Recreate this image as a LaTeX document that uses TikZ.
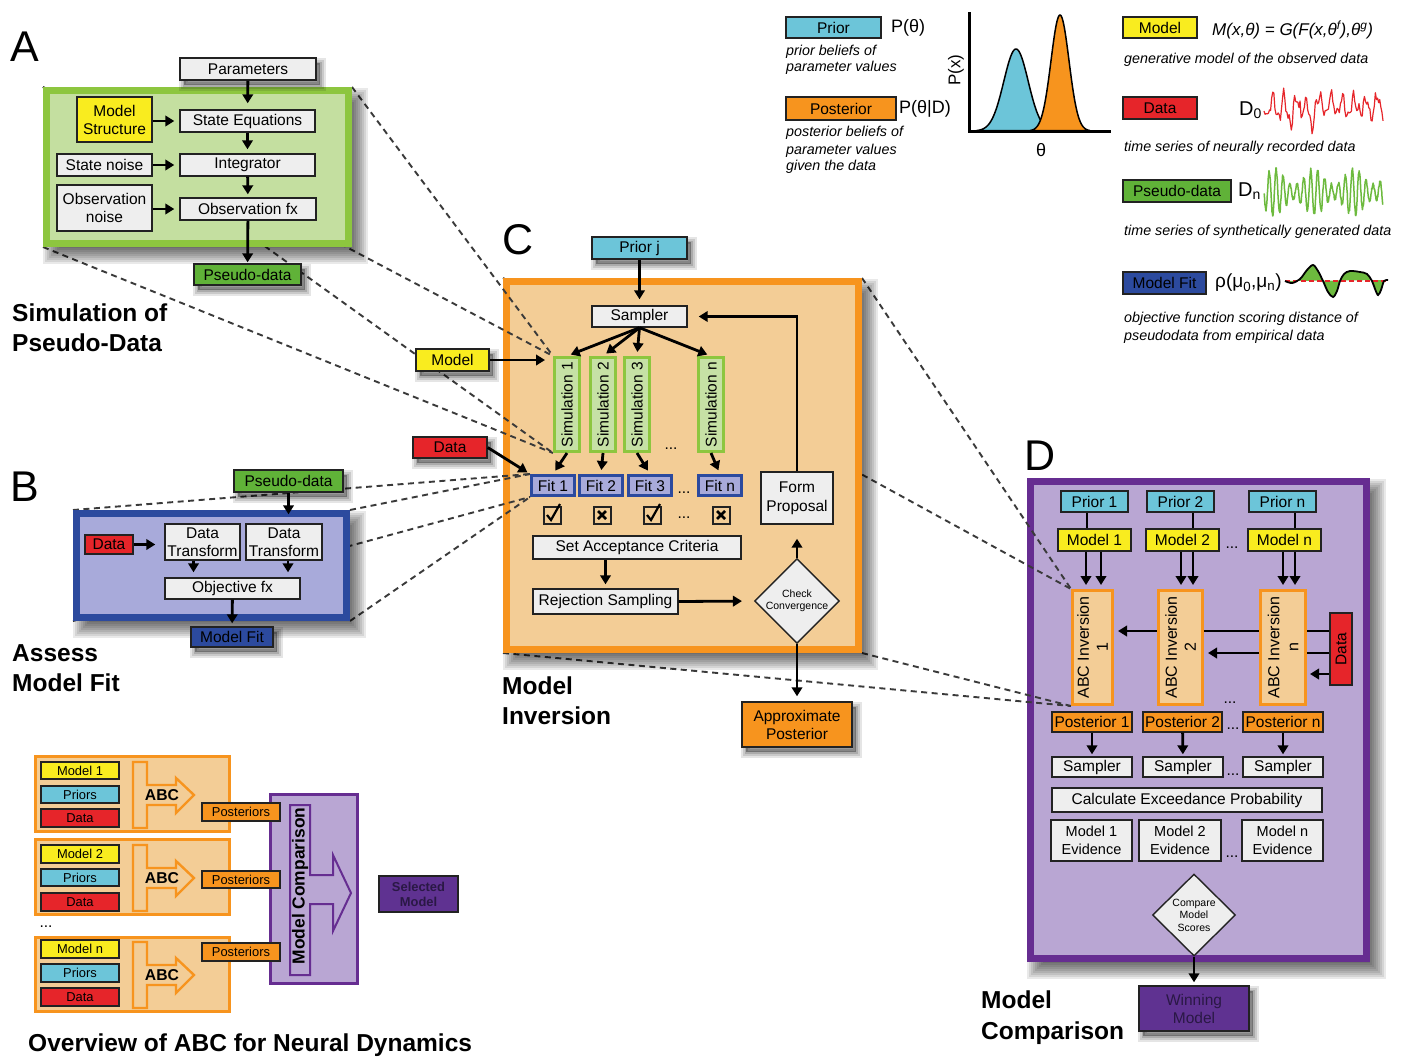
\documentclass[tikz,border=0pt]{standalone}
\usepackage{fontspec}
\setmainfont{Liberation Sans}
\usetikzlibrary{arrows.meta,shapes.geometric}

% palette
\definecolor{cPrior}{HTML}{6CC5D9}
\definecolor{cOrange}{HTML}{F7941E}
\definecolor{cPeach}{HTML}{F3CD96}
\definecolor{cYellow}{HTML}{F9EC1F}
\definecolor{cRed}{HTML}{E6252A}
\definecolor{cPseudo}{HTML}{60B238}
\definecolor{cGreenFill}{HTML}{C4DFA0}
\definecolor{cGreenLine}{HTML}{8DC63F}
\definecolor{cSimFill}{HTML}{C6E1A5}
\definecolor{cNavy}{HTML}{2C4A9E}
\definecolor{cLavender}{HTML}{A8AADA}
\definecolor{cPurple}{HTML}{662D91}
\definecolor{cPurpleBox}{HTML}{5F3291}
\definecolor{cLilac}{HTML}{B9A6D3}
\definecolor{cGrayBox}{HTML}{EEEEEE}
\definecolor{cEdge}{HTML}{222222}
\definecolor{cDash}{HTML}{3A3A3A}
\definecolor{cWave}{HTML}{6DBA3E}
\definecolor{cDarkText}{HTML}{2A1845}

\newcommand\fsz[2]{\fontsize{#1}{#2}\selectfont}
% soft drop shadow under a large panel, given its outer corners
\newcommand\panelshadow[4]{%
  \foreach \e in {-8,-6,...,8}{%
    \fill[black,opacity=0.085] ({#1+8-\e},{#2+9-\e}) rectangle ({#3+8+\e},{#4+9+\e});
  }}

\pgfdeclarelayer{paper}
\pgfdeclarelayer{panelD}
\pgfdeclarelayer{linksD}
\pgfdeclarelayer{panelC}
\pgfdeclarelayer{linksC}
\pgfdeclarelayer{panelAB}
\pgfsetlayers{paper,panelD,linksD,panelC,linksC,panelAB,main}

\tikzset{
  rect/.style n args={4}{at={({(#1+#3)/2},{(#2+#4)/2})},minimum width={#3-#1},minimum height={#4-#2}},
  vrect/.style n args={4}{at={({(#1+#3)/2},{(#2+#4)/2})},rotate=90,minimum width={#4-#2},minimum height={#3-#1}},
  box/.style={draw=cEdge,line width=1.4pt,inner sep=0pt,align=center,font=\fsz{15.5}{18}},
  graybox/.style={box,fill=cGrayBox},
  priorbox/.style={box,fill=cPrior},
  modelbox/.style={box,fill=cYellow},
  databox/.style={box,fill=cRed},
  pseudobox/.style={box,fill=cPseudo},
  fitbox/.style={box,fill=cNavy},
  postbox/.style={box,fill=cOrange},
  winbox/.style={box,fill=cPurpleBox,text=cDarkText},
  simbox/.style={draw=cGreenLine,line width=3pt,fill=cSimFill,inner sep=0pt,font=\fsz{15.5}{18}},
  fitcell/.style={draw=cNavy,line width=3pt,fill=cLavender,inner sep=0pt,font=\fsz{15.5}{18}},
  abcbox/.style={draw=cOrange,line width=3pt,fill=cPeach,inner sep=0pt,align=center,font=\fsz{16}{19}},
  tickbox/.style={draw=cEdge,line width=2pt,minimum size=17pt,inner sep=0pt},
  decision/.style={diamond,aspect=1,draw=cEdge,line width=1.4pt,fill=cGrayBox,inner sep=0pt,align=center,font=\fsz{10.5}{12.5}},
  panel/.style={line width=7pt,inner sep=0pt},
  ovpanel/.style={draw=cOrange,fill=cPeach,line width=3pt,inner sep=0pt},
  ovbox/.style={box,line width=1.2pt,font=\fsz{12.9}{15}},
  % three stacked rings give a soft shadow below and right of a box
  smallshadow/.style={
    preaction={draw=black,fill=black,opacity=0.10,line width=11pt,transform canvas={shift={(4pt,-5pt)}}},
    preaction={draw=black,fill=black,opacity=0.12,line width=7pt,transform canvas={shift={(4pt,-5pt)}}},
    preaction={draw=black,fill=black,opacity=0.15,line width=3pt,transform canvas={shift={(4pt,-5pt)}}}},
  arr/.style={draw=black,line width=2.8pt,-{Triangle[length=9pt,width=10.5pt]}},
  flow/.style={draw=black,line width=2.8pt},
  link/.style={draw=cDash,line width=1.9pt,dash pattern=on 6pt off 4.5pt},
  heading/.style={anchor=west,inner sep=0pt,align=left,font=\fsz{24.5}{30}\bfseries},
  letter/.style={inner sep=0pt,font=\fsz{43}{43}},
  note/.style={anchor=west,inner sep=0pt,font=\fsz{14.3}{17}\itshape},
  ellip/.style={inner sep=0pt,font=\fsz{15.5}{18}},
  sym/.style={anchor=west,inner sep=0pt},
}

\begin{document}
\begin{tikzpicture}[x=1pt,y=-1pt]
\useasboundingbox (0,0) rectangle (1404,1058);
\begin{pgfonlayer}{paper}
  \fill[white] (0,0) rectangle (1404,1058);
\end{pgfonlayer}

% ================= legend =================
\node[priorbox,rect={786}{17}{881}{38}] (lgPrior) {Prior};
\node[sym,font=\fsz{18}{20}] (lgPtheta) at (891,28) {P(θ)};
\node[note] (lgN1) at (786,52) {prior beliefs of};
\node[note] (lgN2) at (786,68) {parameter values};
\node[postbox,rect={786}{97}{896}{120}] (lgPost) {Posterior};
\node[sym,font=\fsz{18}{20}] (lgPthetaD) at (899,109) {P(θ|D)};
\node[note] (lgN3) at (786,133) {posterior beliefs of};
\node[note] (lgN4) at (786,151) {parameter values};
\node[note] (lgN5) at (786,167) {given the data};

% prior and posterior densities
\filldraw[fill=cPrior,draw=black,line width=1.5pt] plot[domain=976:1058,samples=90] (\x,{131-82*exp(-((\x-1016)^2)/297.7)}) -- cycle;
\filldraw[fill=cOrange,draw=black,line width=1.5pt] plot[domain=1030:1090,samples=90] (\x,{131-116*exp(-((\x-1060)^2)/162)}) -- cycle;
\draw[line width=3pt] (969,12) -- (969,131) -- (1111,131);
\node[rotate=90,inner sep=0pt,font=\fsz{17}{17}] (lgPx) at (956,70) {P(x)};
\node[inner sep=0pt,font=\fsz{18}{18}] (lgTheta) at (1041,150) {θ};

\node[modelbox,rect={1123}{17}{1197}{38}] (lgModel) {Model};
\node[sym,font=\fsz{17}{18}\itshape] (lgEq) at (1212,30) {M(x,θ) = G(F(x,θ\textsuperscript{f}),θ\textsuperscript{g})};
\node[note] (lgN6) at (1124,60) {generative model of the observed data};

\node[databox,rect={1123}{97}{1197}{119}] (lgData) {Data};
\node[sym,font=\fsz{20}{20}] (lgD0) at (1239,110) {D\textsubscript{0}};
\pgfmathsetseed{7}
\draw[cRed,line width=1.2pt,line join=round] plot[domain=1264:1383,samples=110] (\x,{106+9*sin(31*(\x-1264))+6*sin(67*(\x-1264)+40)+5*rand+22*exp(-((\x-1311)^2)/5)+12*exp(-((\x-1290)^2)/8)});
\node[note] (lgN7) at (1124,148) {time series of neurally recorded data};

\node[pseudobox,rect={1123}{180}{1231}{202}] (lgPseudo) {Pseudo-data};
\node[sym,font=\fsz{20}{20}] (lgDn) at (1238,191) {D\textsubscript{n}};
\draw[cWave,line width=1.5pt,line join=round] plot[domain=1264:1383,samples=360] (\x,{192+(15+8*sin(9*(\x-1264)))*sin(52*(\x-1264))+2*rand});
\node[note] (lgN8) at (1124,232) {time series of synthetically generated data};

\node[fitbox,rect={1123}{272}{1206}{294}] (lgFit) {Model Fit};
\node[sym,font=\fsz{19}{19}] (lgRho) at (1215,283) {ρ(μ\textsubscript{0},μ\textsubscript{n})};
\fill[cWave] plot[smooth,tension=0.55] coordinates {(1285,281) (1292,283) (1300,279) (1307,270) (1313,265) (1318,271) (1323,281) (1328,292) (1333,297) (1337,291) (1340,281) (1344,274) (1350,271) (1360,272) (1367,274) (1372,281) (1375,289) (1378,295) (1381,290) (1384,281) (1388,280)} -- cycle;
\draw[cRed,line width=1.6pt,dash pattern=on 5pt off 3pt] (1285,281) -- (1388,281);
\draw[black,line width=1.8pt] plot[smooth,tension=0.55] coordinates {(1285,281) (1292,283) (1300,279) (1307,270) (1313,265) (1318,271) (1323,281) (1328,292) (1333,297) (1337,291) (1340,281) (1344,274) (1350,271) (1360,272) (1367,274) (1372,281) (1375,289) (1378,295) (1381,290) (1384,281) (1388,280)};
\node[note] (lgN9) at (1124,319) {objective function scoring distance of};
\node[note] (lgN10) at (1124,337) {pseudodata from empirical data};

% ================= panel backgrounds =================
\begin{pgfonlayer}{panelAB}
  \panelshadow{43}{87}{352}{247}
  \panelshadow{73}{510}{350}{621}
  \node[panel,draw=cGreenLine,fill=cGreenFill,rect={46.5}{90.5}{348.5}{243.5}] (panA) {};
  \node[panel,draw=cNavy,fill=cLavender,rect={76.5}{513.5}{346.5}{617.5}] (panB) {};
\end{pgfonlayer}
\begin{pgfonlayer}{panelC}
  \panelshadow{503}{278}{862}{653}
  \node[panel,draw=cOrange,fill=cPeach,rect={506.5}{281.5}{858.5}{649.5}] (panC) {};
\end{pgfonlayer}
\begin{pgfonlayer}{panelD}
  \panelshadow{1027}{478}{1370}{962}
  \node[panel,draw=cPurple,fill=cLilac,rect={1030.5}{481.5}{1366.5}{958.5}] (panD) {};
\end{pgfonlayer}

% ================= A: simulation of pseudo-data =================
\node[letter] (labA) at (25,47) {A};
\node[graybox,smallshadow,rect={180}{58}{316}{80}] (params) {Parameters};
\node[modelbox,rect={77}{97}{152}{142}] (ms) {Model\\Structure};
\node[graybox,rect={180}{110}{315}{132}] (se) {State Equations};
\node[graybox,rect={57}{154}{152}{176}] (sn) {State noise};
\node[graybox,rect={180}{154}{315}{176}] (integ) {Integrator};
\node[graybox,rect={57}{185}{152}{231}] (on) {Observation\\noise};
\node[graybox,rect={180}{198}{316}{220}] (ofx) {Observation fx};
\node[pseudobox,smallshadow,rect={194}{264}{301}{285}] (pdA) {Pseudo-data};
\draw[arr,shorten >=6pt] (params) -- (se);
\draw[arr,shorten >=4pt] (se) -- (integ);
\draw[arr,shorten >=3pt] (integ) -- (ofx);
\draw[arr,shorten >=1pt] (ofx) -- (pdA);
\draw[arr,shorten >=5pt] (ms.east |- se.west) -- (se.west);
\draw[arr,shorten >=5pt] (sn) -- (integ);
\draw[arr,shorten >=5pt] (on.east |- ofx.west) -- (ofx.west);
\node[heading] (hA) at (12,328) {Simulation of\\Pseudo-Data};

% ================= B: assess model fit =================
\node[letter] (labB) at (25,487) {B};
\node[pseudobox,smallshadow,rect={234}{470}{343}{492}] (pdB) {Pseudo-data};
\node[databox,rect={85}{535}{133}{554}] (dataB) {Data};
\node[graybox,rect={165}{524}{240}{560}] (dt1) {Data\\Transform};
\node[graybox,rect={246}{524}{322}{560}] (dt2) {Data\\Transform};
\node[graybox,rect={165}{578}{300}{599}] (objfx) {Objective fx};
\node[fitbox,smallshadow,rect={191}{627}{273}{647}] (mfB) {Model Fit};
\draw[arr,shorten >=9pt] (pdB.south) -- (pdB.south |- dt2.north);
\draw[arr,shorten >=9pt] (dataB.east) -- (dataB.east -| dt1.west);
\coordinate (dtL) at ([xshift=-9pt]dt1.south);
\coordinate (dtR) at ([xshift=4pt]dt2.south);
\draw[arr,shorten >=5pt] (dtL) -- (dtL |- objfx.north);
\draw[arr,shorten >=5pt] (dtR) -- (dtR |- objfx.north);
\draw[arr,shorten >=3pt] (objfx) -- (mfB);
\node[heading] (hB) at (12,668) {Assess\\Model Fit};

% ================= C: model inversion =================
\node[letter] (labC) at (518,240) {C};
\node[priorbox,smallshadow,rect={592}{237}{687}{259}] (priorj) {Prior j};
\node[graybox,rect={592}{306}{687}{327}] (sampler) {Sampler};
\node[simbox,vrect={554.5}{357.5}{579.5}{451.5}] (sim1) {Simulation 1};
\node[simbox,vrect={590.5}{357.5}{615.5}{451.5}] (sim2) {Simulation 2};
\node[simbox,vrect={624.5}{357.5}{649.5}{451.5}] (sim3) {Simulation 3};
\node[simbox,vrect={698.5}{357.5}{723.5}{451.5}] (simn) {Simulation n};
\node[ellip] (dotsSim) at (671,449) {...};
\node[fitcell,rect={531.5}{475.5}{574.5}{495.5}] (fit1) {Fit 1};
\node[fitcell,rect={579.5}{475.5}{622.5}{495.5}] (fit2) {Fit 2};
\node[fitcell,rect={628.5}{475.5}{671.5}{495.5}] (fit3) {Fit 3};
\node[fitcell,rect={698.5}{475.5}{741.5}{495.5}] (fitn) {Fit n};
\node[ellip] (dotsFit) at (684,493) {...};
\node[tickbox] (ck1) at (552,515) {};
\node[tickbox] (ck2) at (602,515) {};
\node[tickbox] (ck3) at (652,515) {};
\node[tickbox] (ckn) at (721,515) {};
\node[ellip] (dotsCk) at (684,518) {...};
\foreach \c in {ck1,ck3}
  \draw[line width=2.2pt] ([shift={(-5,0)}]\c.center) -- ([shift={(-1,5)}]\c.center) -- ([shift={(8,-11)}]\c.center);
\foreach \c in {ck2,ckn}{
  \draw[line width=2.6pt] ([shift={(-4,-4)}]\c.center) -- ([shift={(4,4)}]\c.center);
  \draw[line width=2.6pt] ([shift={(-4,4)}]\c.center) -- ([shift={(4,-4)}]\c.center);
}
\node[graybox,rect={533}{536}{741}{559}] (sac) {Set Acceptance Criteria};
\node[graybox,rect={533}{589}{678}{614}] (rs) {Rejection Sampling};
\node[decision,minimum width=83pt,minimum height=81pt] (cc) at (797,601) {Check\\Convergence};
\node[graybox,font=\fsz{15.5}{19},rect={761}{472}{833}{524}] (fp) {Form\\Proposal};
\node[postbox,smallshadow,rect={742}{702}{852}{747}] (ap) {Approximate\\Posterior};
\node[modelbox,smallshadow,rect={416}{349}{489}{371}] (modelC) {Model};
\node[databox,smallshadow,rect={413}{437}{487}{458}] (dataC) {Data};
\draw[arr,shorten >=6pt] (priorj) -- (sampler);
\foreach \s in {sim1,sim2,sim3,simn}
  \draw[arr,shorten >=4pt] (sampler.south) -- (\s.east);
\foreach \s/\f in {sim1/fit1,sim2/fit2,sim3/fit3,simn/fitn}
  \draw[arr,shorten >=4pt] (\s.west) -- (\f.north);
\draw[arr,shorten >=4pt] (sac.south -| rs.north) -- (rs.north);
\draw[arr,shorten >=12pt] (rs.east) -- (cc.west);
\draw[arr,shorten >=14pt] (cc.north) -- (fp.south);
\draw[arr,shorten >=11pt] (fp.north) |- (sampler.east);
\draw[arr,shorten >=5pt] (cc.south) -- (ap.north);
\draw[arr,shorten >=8pt] (modelC.east) -- (modelC.east -| sim1.north);
\draw[arr,shorten >=3pt] (dataC.east) -- (fit1.north west);
\node[heading] (hC) at (502,701) {Model\\Inversion};

% ================= D: model comparison =================
\node[letter] (labD) at (1040,456) {D};
\node[priorbox,rect={1061}{491}{1128}{512}] (pr1) {Prior 1};
\node[priorbox,rect={1147}{491}{1214}{512}] (pr2) {Prior 2};
\node[priorbox,rect={1249}{491}{1316}{512}] (prn) {Prior n};
\node[modelbox,rect={1058}{529}{1131}{551}] (m1) {Model 1};
\node[modelbox,rect={1146}{529}{1219}{551}] (m2) {Model 2};
\node[modelbox,rect={1248}{529}{1321}{551}] (mn) {Model n};
\node[ellip] (dotsM) at (1232,548) {...};
\node[abcbox,vrect={1072.5}{590.5}{1112.5}{704.5}] (abc1) {ABC Inversion\\1};
\node[abcbox,vrect={1158.5}{590.5}{1202.5}{704.5}] (abc2) {ABC Inversion\\2};
\node[abcbox,vrect={1260.5}{590.5}{1305.5}{704.5}] (abcn) {ABC Inversion\\n};
\node[databox,vrect={1330}{613}{1352}{685}] (dataD) {Data};
\node[ellip] (dotsA) at (1230,703) {...};
\node[postbox,rect={1052}{712}{1132}{732}] (po1) {Posterior 1};
\node[postbox,rect={1143}{712}{1222}{732}] (po2) {Posterior 2};
\node[postbox,rect={1243}{712}{1323}{732}] (pon) {Posterior n};
\node[ellip] (dotsP) at (1233,729) {...};
\node[graybox,rect={1052}{757}{1132}{777}] (sa1) {Sampler};
\node[graybox,rect={1143}{757}{1223}{777}] (sa2) {Sampler};
\node[graybox,rect={1243}{757}{1323}{777}] (san) {Sampler};
\node[ellip] (dotsS) at (1233,775) {...};
\node[graybox,rect={1052}{788}{1322}{812}] (cep) {Calculate Exceedance Probability};
\node[graybox,font=\fsz{14.5}{17.5},rect={1051}{820}{1132}{861}] (ev1) {Model 1\\Evidence};
\node[graybox,font=\fsz{14.5}{17.5},rect={1139}{820}{1221}{861}] (ev2) {Model 2\\Evidence};
\node[graybox,font=\fsz{14.5}{17.5},rect={1242}{820}{1323}{861}] (evn) {Model n\\Evidence};
\node[ellip] (dotsE) at (1232,857) {...};
\node[decision,minimum width=83pt,minimum height=82pt] (cms) at (1194,915) {Compare\\Model\\Scores};
\node[winbox,smallshadow,rect={1139}{986}{1249}{1031}] (win) {Winning\\Model};
% priors feed their models
\coordinate (pl1) at ([xshift=-7.5pt]pr1.south);
\coordinate (pl2) at ([xshift=12.5pt]pr2.south);
\coordinate (pln) at ([xshift=12.5pt]prn.south);
\draw[flow] (pl1) -- (pl1 |- m1.north);
\draw[flow] (pl2) -- (pl2 |- m2.north);
\draw[flow] (pln) -- (pln |- mn.north);
% each model sends two inputs to its inversion
\foreach \m/\a/\dx [count=\i] in {m1/abc1/-8.5,m1/abc1/6.5,m2/abc2/-1.5,m2/abc2/10.5,mn/abcn/-1.5,mn/abcn/10.5}{
  \coordinate (dd\i) at ([xshift=\dx pt]\m.south);
  \draw[arr,shorten >=4pt] (dd\i) -- (dd\i |- \a.east);
}
\draw[arr,shorten >=2pt] (po1) -- (sa1);
\draw[arr,shorten >=2pt] (po2) -- (sa2);
\draw[arr,shorten >=2pt] (pon) -- (san);
\draw[arr,shorten >=3pt] (cms) -- (win);
\node[heading,font=\fsz{24.5}{31}\bfseries] (hD) at (981,1018) {Model\\Comparison};

% ================= overview =================
\node[ovpanel,rect={35.5}{756.5}{229.5}{831.5}] (ovp1) {};
\node[ovpanel,rect={35.5}{839.5}{229.5}{914.5}] (ovp2) {};
\node[ovpanel,rect={35.5}{937.5}{229.5}{1011.5}] (ovpn) {};
\node[ellip] (ovDots) at (46,927) {...};
\node[ovbox,fill=cYellow,rect={41}{762}{119}{779}] (ovM1) {Model 1};
\node[ovbox,fill=cPrior,rect={41}{786}{119}{803}] (ovP1) {Priors};
\node[ovbox,fill=cRed,rect={41}{809}{119}{827}] (ovD1) {Data};
\node[ovbox,fill=cYellow,rect={41}{845}{119}{863}] (ovM2) {Model 2};
\node[ovbox,fill=cPrior,rect={41}{869}{119}{886}] (ovP2) {Priors};
\node[ovbox,fill=cRed,rect={41}{893}{119}{911}] (ovD2) {Data};
\node[ovbox,fill=cYellow,rect={41}{940}{119}{958}] (ovMn) {Model n};
\node[ovbox,fill=cPrior,rect={41}{964}{119}{982}] (ovPn) {Priors};
\node[ovbox,fill=cRed,rect={41}{988}{119}{1006}] (ovDn) {Data};
\foreach \dy/\k in {0/1,83/2,180/n}{
  \begin{scope}[yshift=-\dy pt]
    \filldraw[draw=cOrange,fill=cPeach,line width=2.4pt] (133,762) -- (147,762) -- (147,785) -- (176,785) -- (176,778) -- (194,795) -- (176,813) -- (176,805) -- (147,805) -- (147,828) -- (133,828) -- cycle;
    \node[inner sep=0pt,font=\fsz{15.7}{16}\bfseries] (ovAbc\k) at (162,795) {ABC};
  \end{scope}
}
\node[draw=cPurple,fill=cLilac,line width=3pt,inner sep=0pt,rect={270.5}{794.5}{357.5}{983.5}] (ovMC) {};
\filldraw[draw=cPurple,fill=cLilac,line width=2pt] (290,805) -- (310,805) -- (310,875) -- (333,875) -- (333,855) -- (351,893) -- (333,931) -- (333,904) -- (310,904) -- (310,975) -- (290,975) -- cycle;
\node[rotate=90,inner sep=0pt,font=\fsz{17.4}{18}\bfseries] (ovMCt) at (300,886) {Model Comparison};
\node[ovbox,fill=cOrange,rect={202}{803}{280}{821}] (ovPo1) {Posteriors};
\node[ovbox,fill=cOrange,rect={202}{871}{280}{888}] (ovPo2) {Posteriors};
\node[ovbox,fill=cOrange,rect={202}{943}{280}{961}] (ovPon) {Posteriors};
\node[ovbox,fill=cPurpleBox,text=cDarkText,font=\fsz{12.9}{15}\bfseries,rect={379}{876}{458}{912}] (ovSel) {Selected\\Model};
\node[heading] (hO) at (28,1045) {Overview of ABC for Neural Dynamics};

% ================= dashed projection lines and lines behind boxes =================
\begin{pgfonlayer}{linksC}
  \draw[link] (panA.north east) -- (sim1.north east);
  \draw[link] (panA.north west) -- (sim1.north east);
  \draw[link] (panA.north west) -- (sim1.north west);
  \draw[link] (panA.south west) -- (sim1.north west);
  \draw[link] (panB.north west) -- (fit1.north west);
  \draw[link] (panB.north east) -- (fit1.north west);
  \draw[link] (panB.south west) -- (fit1.south west);
  \draw[link] (panB.south east) -- (fit1.south west);
\end{pgfonlayer}
\begin{pgfonlayer}{linksD}
  \draw[link] (panC.north west) -- (abc1.north east);
  \draw[link] (panC.north east) -- (abc1.north east);
  \draw[link] (panC.south west) -- (abc1.north west);
  \draw[link] (panC.south east) -- (abc1.north west);
  \coordinate (dq1) at ([yshift=18pt]dataD.north);
  \coordinate (dq2) at ([yshift=-4pt]dataD.north);
  \coordinate (dq3) at ([yshift=-25pt]dataD.north);
  \draw[arr,shorten >=4pt] (dq1) -- (dq1 -| abc1.south);
  \draw[arr,shorten >=4pt] (dq2) -- (dq2 -| abc2.south);
  \draw[arr,shorten >=3pt] (dq3) -- (dq3 -| abcn.south);
\end{pgfonlayer}
\end{tikzpicture}
\end{document}
